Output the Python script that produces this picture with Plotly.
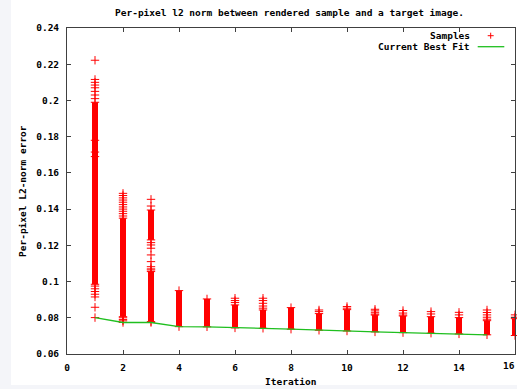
import plotly.graph_objects as go

# ---------------- data ----------------
# Dense, overlapping sample stacks: one solid range per entry (marker centres)
seg_iter = [1, 2, 3, 3, 4, 5, 6, 7, 8, 9, 10, 11, 12, 13, 14, 15, 16]
seg_low = [0.0985, 0.0806, 0.1230, 0.0779, 0.0751, 0.0750, 0.0744, 0.0742,
           0.0737, 0.0731, 0.0727, 0.0722, 0.0718, 0.0715, 0.0711, 0.0706, 0.0702]
seg_high = [0.1990, 0.1350, 0.1395, 0.1055, 0.0950, 0.0904, 0.0871, 0.0843,
            0.0856, 0.0823, 0.0845, 0.0815, 0.0810, 0.0806, 0.0801, 0.0784, 0.0795]

# Individually visible samples (iteration, value)
pt_iter = [1] * 18 + [2] * 15 + [3] * 11 + [6] * 3 + [7] * 5 + [9] * 2 + [10] * 2 \
          + [11] * 4 + [12] * 3 + [13] * 2 + [14] * 2 + [15] * 5 + [16] * 2
pt_value = [
    # iteration 1
    0.2222, 0.2116, 0.2100, 0.2085, 0.2070, 0.2050, 0.2030, 0.2010,
    0.1780, 0.1715, 0.0975, 0.0960, 0.0945, 0.0930, 0.0915, 0.0858, 0.0801, 0.1690,
    # iteration 2
    0.1487, 0.1475, 0.1462, 0.1450, 0.1438, 0.1425, 0.1412, 0.1400,
    0.1388, 0.1375, 0.1362, 0.0800, 0.0790, 0.0783, 0.0774,
    # iteration 3
    0.1454, 0.1417, 0.1215, 0.1202, 0.1184, 0.1147, 0.1110, 0.1082,
    0.1070, 0.1064, 0.0774,
    # iteration 6
    0.0908, 0.0895, 0.0884,
    # iteration 7
    0.0908, 0.0895, 0.0880, 0.0865, 0.0853,
    # iteration 9
    0.0843, 0.0834,
    # iteration 10
    0.0862, 0.0853,
    # iteration 11
    0.0847, 0.0838, 0.0828, 0.0820,
    # iteration 12
    0.0840, 0.0826, 0.0815,
    # iteration 13
    0.0834, 0.0821,
    # iteration 14
    0.0830, 0.0816,
    # iteration 15
    0.0843, 0.0829, 0.0816, 0.0803, 0.0792,
    # iteration 16
    0.0816, 0.0803,
]

# Current best fit (running minimum)
fit_iter = list(range(1, 16))
fit_value = [0.0801, 0.0774, 0.0774, 0.0751, 0.0750, 0.0744, 0.0742, 0.0737,
             0.0731, 0.0727, 0.0722, 0.0718, 0.0715, 0.0711, 0.0706]

x_ticks = [0, 2, 4, 6, 8, 10, 12, 14, 16]
y_ticks = [0.06, 0.08, 0.1, 0.12, 0.14, 0.16, 0.18, 0.2, 0.22, 0.24]
y_tick_text = ["0.06", "0.08", "0.1", "0.12", "0.14", "0.16", "0.18", "0.2", "0.22", "0.24"]

TITLE = "Per-pixel l2 norm between rendered sample and a target image."
X_TITLE = "Iteration"
Y_TITLE = "Per-pixel L2-norm error"

# ---------------- figure ----------------
W, H = 517, 389
L, R, T, B = 67, 2, 28, 35
PW, PH = W - L - R, H - T - B

RED = "#ff0000"
GREEN = "#1fbf1f"
AXIS = "#404040"
FONT = dict(family="DejaVu Sans Mono", size=9.5, color="#000000", weight="bold")


def px(xp):
    return (xp - L) / PW


def py(yp):
    return (H - B - yp) / PH


seg_x, seg_y = [], []
for i, lo, hi in zip(seg_iter, seg_low, seg_high):
    seg_x += [i, i, None]
    seg_y += [lo, hi, None]

end_x = [i for i in seg_iter] * 2
end_y = list(seg_low) + list(seg_high)

fig = go.Figure()
fig.add_trace(go.Scatter(
    x=seg_x, y=seg_y, mode="lines",
    line=dict(color=RED, width=6), hoverinfo="skip", showlegend=False,
    cliponaxis=False))
fig.add_trace(go.Scatter(
    x=list(pt_iter) + end_x, y=list(pt_value) + end_y, mode="markers",
    marker=dict(symbol="cross-thin", size=6, line=dict(color=RED, width=1)),
    showlegend=False, cliponaxis=False, name="Samples"))
fig.add_trace(go.Scatter(
    x=fit_iter, y=fit_value, mode="lines",
    line=dict(color=GREEN, width=1.3), showlegend=False, name="Current Best Fit"))

axis_common = dict(
    showline=True, linecolor=AXIS, linewidth=1, mirror="allticks",
    ticks="inside", ticklen=4, tickcolor=AXIS, tickwidth=1,
    showgrid=False, zeroline=False, tickfont=FONT,
)

fig.update_layout(
    width=W, height=H, autosize=False,
    margin=dict(l=L, r=R, t=T, b=B, pad=0),
    paper_bgcolor="#ffffff", plot_bgcolor="#ffffff",
    xaxis=dict(range=[0, 16], tickvals=x_ticks, ticktext=[str(v) for v in x_ticks],
               ticklabelstandoff=5, **axis_common),
    yaxis=dict(range=[0.06, 0.24], tickvals=y_ticks, ticktext=y_tick_text,
               ticklabelstandoff=5, **axis_common),
    showlegend=False,
)

annotations = [
    dict(text=TITLE, x=px(289), y=py(12), xref="paper", yref="paper",
         showarrow=False, font=FONT, xanchor="center", yanchor="middle"),
    dict(text=X_TITLE, x=px(290), y=py(381.5), xref="paper", yref="paper",
         showarrow=False, font=FONT, xanchor="center", yanchor="middle"),
    dict(text=Y_TITLE, x=px(22), y=py(191), xref="paper", yref="paper",
         showarrow=False, font=FONT, textangle=-90, xanchor="center", yanchor="middle"),
    dict(text="Samples", x=px(471.5), y=py(35.7), xref="paper", yref="paper",
         showarrow=False, font=FONT, xanchor="right", yanchor="middle"),
    dict(text="Current Best Fit", x=px(471.5), y=py(46.7), xref="paper", yref="paper",
         showarrow=False, font=FONT, xanchor="right", yanchor="middle"),
    # last x tick label, kept inside the window edge
    dict(text=str(x_ticks[-1]), x=px(516.5), y=py(365), xref="paper", yref="paper",
         showarrow=False, font=FONT, xanchor="right", yanchor="middle"),
]

shapes = [
    # light screenshot frame at left and bottom
    dict(type="rect", xref="paper", yref="paper", x0=px(0), x1=px(11), y0=py(0), y1=py(H),
         fillcolor="#f4f5f9", line=dict(width=0), layer="below"),
    dict(type="rect", xref="paper", yref="paper", x0=px(0), x1=px(W), y0=py(385), y1=py(H),
         fillcolor="#f4f5f9", line=dict(width=0), layer="below"),
    # legend keys
    dict(type="line", xref="paper", yref="paper", x0=px(487.7), x1=px(493.7), y0=py(35.7), y1=py(35.7),
         line=dict(color=RED, width=1)),
    dict(type="line", xref="paper", yref="paper", x0=px(490.7), x1=px(490.7), y0=py(32.7), y1=py(38.7),
         line=dict(color=RED, width=1)),
    dict(type="line", xref="paper", yref="paper", x0=px(477.7), x1=px(504.3), y0=py(46.7), y1=py(46.7),
         line=dict(color=GREEN, width=1.3)),
]

fig.update_layout(annotations=annotations, shapes=shapes)
fig.write_html("out.html")
